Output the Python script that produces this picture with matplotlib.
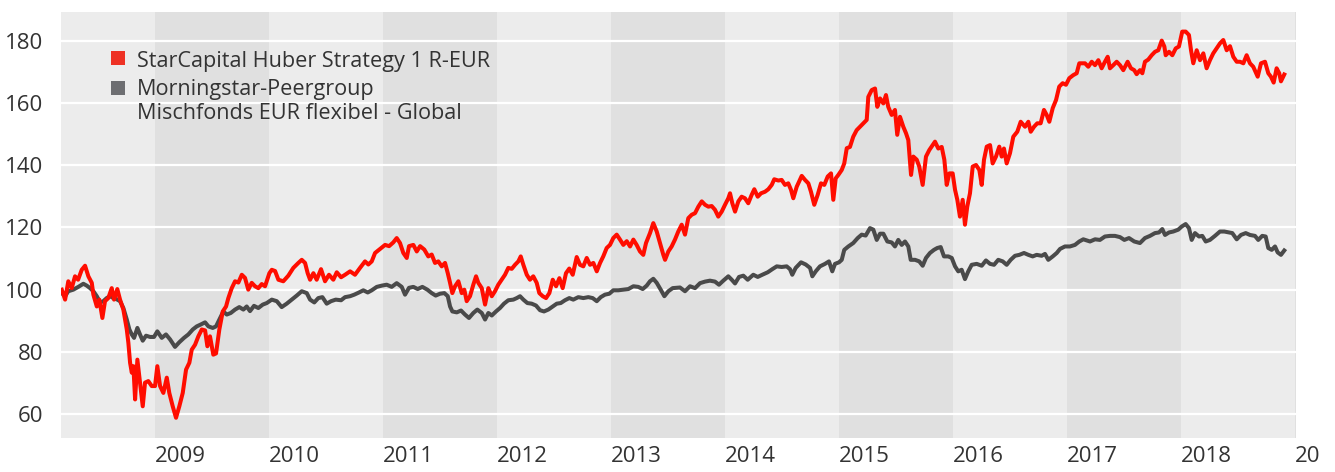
import matplotlib
matplotlib.use("Agg")
import matplotlib.pyplot as plt
from matplotlib.patches import Rectangle

# StarCapital Huber Strategy 1 R-EUR (indexed)
years_red = [
    2008.182, 2008.211, 2008.239, 2008.269, 2008.298, 2008.325, 2008.357, 2008.386,
    2008.415, 2008.445, 2008.459, 2008.489, 2008.511, 2008.538, 2008.561, 2008.590,
    2008.620, 2008.640, 2008.669, 2008.693, 2008.722, 2008.752, 2008.766, 2008.781,
    2008.796, 2008.810, 2008.825, 2008.845, 2008.868, 2008.892, 2008.912, 2008.941,
    2008.971, 2009.000, 2009.020, 2009.044, 2009.073, 2009.103, 2009.125, 2009.155,
    2009.184, 2009.213, 2009.243, 2009.272, 2009.301, 2009.322, 2009.351, 2009.380,
    2009.410, 2009.439, 2009.459, 2009.482, 2009.511, 2009.535, 2009.564, 2009.594,
    2009.623, 2009.643, 2009.673, 2009.702, 2009.731, 2009.761, 2009.789, 2009.818,
    2009.848, 2009.877, 2009.906, 2009.936, 2009.965, 2010.003, 2010.024, 2010.053,
    2010.082, 2010.125, 2010.169, 2010.213, 2010.257, 2010.287, 2010.316, 2010.339,
    2010.360, 2010.389, 2010.418, 2010.456, 2010.491, 2010.526, 2010.564, 2010.594,
    2010.632, 2010.667, 2010.711, 2010.754, 2010.798, 2010.842, 2010.871, 2010.901,
    2010.930, 2010.974, 2011.018, 2011.053, 2011.090, 2011.120, 2011.149, 2011.178,
    2011.208, 2011.228, 2011.266, 2011.296, 2011.325, 2011.362, 2011.397, 2011.427,
    2011.456, 2011.485, 2011.515, 2011.544, 2011.568, 2011.588, 2011.608, 2011.632,
    2011.661, 2011.690, 2011.713, 2011.734, 2011.763, 2011.792, 2011.816, 2011.836,
    2011.866, 2011.895, 2011.924, 2011.954, 2011.982, 2012.011, 2012.041, 2012.070,
    2012.099, 2012.129, 2012.158, 2012.187, 2012.208, 2012.231, 2012.261, 2012.289,
    2012.318, 2012.348, 2012.371, 2012.401, 2012.430, 2012.459, 2012.489, 2012.518,
    2012.547, 2012.576, 2012.605, 2012.634, 2012.664, 2012.699, 2012.728, 2012.757,
    2012.787, 2012.816, 2012.845, 2012.875, 2012.904, 2012.932, 2012.962, 2012.991,
    2013.020, 2013.050, 2013.079, 2013.108, 2013.138, 2013.167, 2013.196, 2013.225,
    2013.254, 2013.283, 2013.307, 2013.342, 2013.371, 2013.401, 2013.430, 2013.459,
    2013.474, 2013.503, 2013.532, 2013.561, 2013.590, 2013.620, 2013.649, 2013.678,
    2013.708, 2013.737, 2013.766, 2013.796, 2013.825, 2013.854, 2013.883, 2013.912,
    2013.941, 2013.971, 2014.000, 2014.029, 2014.044, 2014.064, 2014.088, 2014.117,
    2014.146, 2014.175, 2014.204, 2014.234, 2014.257, 2014.287, 2014.316, 2014.351,
    2014.380, 2014.410, 2014.432, 2014.468, 2014.497, 2014.526, 2014.555, 2014.579,
    2014.599, 2014.629, 2014.649, 2014.673, 2014.702, 2014.731, 2014.754, 2014.783,
    2014.813, 2014.842, 2014.871, 2014.901, 2014.930, 2014.950, 2014.971, 2014.994,
    2015.024, 2015.046, 2015.068, 2015.096, 2015.125, 2015.155, 2015.184, 2015.213,
    2015.243, 2015.257, 2015.287, 2015.316, 2015.336, 2015.360, 2015.389, 2015.412,
    2015.432, 2015.462, 2015.491, 2015.511, 2015.535, 2015.564, 2015.588, 2015.608,
    2015.632, 2015.652, 2015.682, 2015.704, 2015.734, 2015.763, 2015.792, 2015.822,
    2015.842, 2015.871, 2015.901, 2015.924, 2015.945, 2015.968, 2015.997, 2016.018,
    2016.038, 2016.061, 2016.085, 2016.105, 2016.125, 2016.149, 2016.173, 2016.202,
    2016.231, 2016.252, 2016.272, 2016.296, 2016.325, 2016.348, 2016.377, 2016.406,
    2016.427, 2016.447, 2016.471, 2016.500, 2016.529, 2016.564, 2016.594, 2016.632,
    2016.661, 2016.682, 2016.711, 2016.739, 2016.769, 2016.798, 2016.822, 2016.845,
    2016.875, 2016.904, 2016.932, 2016.962, 2016.991, 2017.020, 2017.055, 2017.085,
    2017.108, 2017.158, 2017.187, 2017.217, 2017.246, 2017.275, 2017.304, 2017.333,
    2017.357, 2017.377, 2017.406, 2017.436, 2017.465, 2017.494, 2017.532, 2017.561,
    2017.590, 2017.611, 2017.640, 2017.661, 2017.684, 2017.713, 2017.743, 2017.772,
    2017.801, 2017.831, 2017.854, 2017.866, 2017.895, 2017.924, 2017.954, 2017.982,
    2018.011, 2018.041, 2018.070, 2018.088, 2018.108, 2018.138, 2018.167, 2018.196,
    2018.225, 2018.254, 2018.283, 2018.313, 2018.342, 2018.371, 2018.401, 2018.430,
    2018.459, 2018.489, 2018.518, 2018.547, 2018.576, 2018.605, 2018.634, 2018.673,
    2018.702, 2018.737, 2018.766, 2018.789, 2018.813, 2018.839, 2018.862, 2018.877,
    2018.906,
]
values_red = [
    100.0, 96.8, 102.7, 100.5, 104.3, 103.2, 106.4, 107.7,
    104.3, 102.2, 98.4, 94.6, 96.8, 90.9, 96.3, 97.3,
    100.5, 96.8, 100.2, 96.8, 93.6, 87.2, 82.9, 76.5,
    73.3, 75.4, 64.7, 77.5, 70.1, 62.5, 70.1, 70.6,
    69.0, 69.0, 75.4, 69.0, 66.8, 71.7, 66.8, 62.5,
    58.8, 62.5, 66.8, 74.3, 76.5, 80.7, 82.3, 85.0,
    87.2, 86.9, 81.8, 85.0, 79.1, 79.5, 87.2, 93.0,
    94.6, 97.3, 100.5, 102.7, 102.3, 104.8, 103.8, 100.0,
    102.2, 101.1, 100.5, 101.8, 101.1, 105.3, 106.4, 106.0,
    103.2, 102.7, 104.5, 107.0, 108.6, 109.6, 108.6, 105.3,
    103.2, 105.3, 103.2, 106.6, 102.7, 104.8, 103.2, 105.6,
    104.0, 104.8, 105.9, 104.8, 107.0, 109.1, 108.1, 109.1,
    111.8, 113.1, 114.4, 114.0, 115.2, 116.6, 115.0, 111.8,
    110.2, 114.0, 114.4, 112.3, 114.0, 112.9, 110.7, 111.3,
    108.6, 109.1, 107.5, 108.6, 105.3, 102.2, 98.9, 101.1,
    102.7, 98.9, 100.0, 96.3, 97.9, 101.6, 104.3, 102.2,
    100.5, 95.2, 100.5, 97.9, 99.5, 101.6, 103.2, 104.8,
    107.0, 106.7, 108.0, 109.1, 110.7, 108.0, 104.8, 103.2,
    104.3, 102.2, 98.9, 97.9, 97.3, 98.9, 103.2, 101.1,
    103.7, 100.5, 105.3, 106.8, 104.8, 110.5, 108.0, 107.5,
    110.2, 108.0, 108.6, 105.9, 108.6, 110.7, 113.4, 114.4,
    116.6, 117.7, 116.1, 114.4, 115.6, 113.9, 116.1, 114.4,
    112.3, 111.2, 115.0, 118.2, 121.4, 118.7, 115.0, 111.2,
    109.6, 112.3, 113.9, 116.1, 118.7, 120.9, 117.7, 123.0,
    124.1, 124.6, 126.7, 128.4, 127.3, 126.7, 126.9, 125.7,
    123.5, 125.1, 127.3, 129.4, 131.0, 127.8, 125.1, 128.4,
    129.9, 129.4, 127.8, 130.5, 132.3, 129.9, 131.0, 131.5,
    132.3, 133.7, 135.5, 135.1, 135.3, 133.7, 134.2, 132.1,
    129.4, 133.1, 134.7, 136.6, 135.3, 134.2, 131.5, 127.3,
    130.5, 134.2, 133.7, 136.4, 137.4, 128.9, 135.8, 136.9,
    138.5, 140.6, 145.5, 145.9, 149.2, 151.3, 152.4, 153.5,
    154.6, 162.0, 164.2, 164.7, 158.8, 161.5, 159.9, 162.6,
    158.8, 156.2, 157.8, 149.8, 155.6, 152.4, 150.3, 148.1,
    136.9, 142.8, 141.8, 139.6, 133.7, 142.8, 144.9, 146.5,
    147.6, 145.4, 145.9, 141.8, 133.7, 137.4, 137.4, 132.1,
    128.9, 123.5, 128.9, 120.9, 126.7, 131.0, 139.6, 140.1,
    138.5, 133.7, 141.8, 146.0, 146.5, 140.6, 142.8, 146.0,
    142.8, 145.4, 140.6, 143.9, 149.2, 150.8, 154.0, 152.4,
    154.0, 150.8, 152.4, 153.5, 153.5, 157.8, 156.2, 154.0,
    158.4, 161.0, 165.3, 166.4, 165.9, 168.0, 169.0, 169.6,
    172.8, 172.8, 171.7, 173.3, 172.2, 173.8, 171.2, 173.3,
    174.9, 171.2, 172.2, 173.3, 172.2, 170.6, 173.3, 171.2,
    170.6, 169.3, 170.6, 169.6, 173.3, 174.0, 175.4, 176.5,
    177.0, 180.1, 178.2, 175.4, 176.5, 175.4, 177.6, 178.2,
    183.0, 183.0, 181.9, 177.0, 172.8, 177.0, 173.8, 176.0,
    171.2, 173.8, 176.0, 177.6, 179.2, 180.3, 177.0, 178.3,
    174.9, 173.3, 173.3, 172.8, 175.4, 172.8, 171.7, 168.5,
    172.8, 173.3, 169.6, 168.5, 166.6, 171.2, 169.6, 167.0,
    169.2,
]

# Morningstar peer group (indexed)
years_peer = [
    2008.182, 2008.211, 2008.239, 2008.283, 2008.327, 2008.371, 2008.401, 2008.430,
    2008.459, 2008.489, 2008.518, 2008.546, 2008.576, 2008.605, 2008.634, 2008.664,
    2008.693, 2008.722, 2008.752, 2008.775, 2008.796, 2008.816, 2008.845, 2008.868,
    2008.892, 2008.921, 2008.956, 2008.991, 2009.020, 2009.059, 2009.096, 2009.132,
    2009.175, 2009.213, 2009.254, 2009.292, 2009.331, 2009.366, 2009.401, 2009.439,
    2009.468, 2009.506, 2009.535, 2009.564, 2009.599, 2009.629, 2009.664, 2009.702,
    2009.739, 2009.775, 2009.804, 2009.833, 2009.868, 2009.906, 2009.945, 2009.980,
    2010.024, 2010.068, 2010.111, 2010.155, 2010.199, 2010.243, 2010.287, 2010.331,
    2010.360, 2010.397, 2010.432, 2010.468, 2010.506, 2010.544, 2010.585, 2010.632,
    2010.667, 2010.711, 2010.748, 2010.789, 2010.827, 2010.866, 2010.901, 2010.945,
    2010.989, 2011.032, 2011.076, 2011.120, 2011.164, 2011.193, 2011.228, 2011.266,
    2011.304, 2011.345, 2011.389, 2011.427, 2011.462, 2011.500, 2011.538, 2011.568,
    2011.588, 2011.608, 2011.647, 2011.684, 2011.719, 2011.754, 2011.792, 2011.827,
    2011.866, 2011.895, 2011.924, 2011.954, 2011.991, 2012.026, 2012.061, 2012.099,
    2012.143, 2012.173, 2012.202, 2012.231, 2012.266, 2012.304, 2012.342, 2012.377,
    2012.412, 2012.450, 2012.489, 2012.524, 2012.559, 2012.596, 2012.634, 2012.669,
    2012.713, 2012.757, 2012.801, 2012.839, 2012.875, 2012.910, 2012.947, 2012.985,
    2013.020, 2013.064, 2013.108, 2013.152, 2013.196, 2013.239, 2013.278, 2013.313,
    2013.342, 2013.371, 2013.401, 2013.436, 2013.468, 2013.503, 2013.541, 2013.605,
    2013.649, 2013.693, 2013.737, 2013.781, 2013.825, 2013.868, 2013.912, 2013.947,
    2013.985, 2014.029, 2014.059, 2014.088, 2014.123, 2014.161, 2014.199, 2014.248,
    2014.287, 2014.327, 2014.375, 2014.415, 2014.454, 2014.497, 2014.541, 2014.570,
    2014.590, 2014.620, 2014.667, 2014.708, 2014.746, 2014.766, 2014.796, 2014.833,
    2014.877, 2014.912, 2014.941, 2014.965, 2015.000, 2015.024, 2015.046, 2015.082,
    2015.125, 2015.164, 2015.199, 2015.234, 2015.272, 2015.301, 2015.331, 2015.360,
    2015.389, 2015.424, 2015.462, 2015.491, 2015.520, 2015.550, 2015.579, 2015.608,
    2015.629, 2015.667, 2015.704, 2015.734, 2015.763, 2015.798, 2015.833, 2015.862,
    2015.892, 2015.921, 2015.959, 2015.989, 2016.018, 2016.046, 2016.076, 2016.105,
    2016.134, 2016.164, 2016.208, 2016.252, 2016.289, 2016.325, 2016.360, 2016.397,
    2016.436, 2016.471, 2016.506, 2016.544, 2016.582, 2016.623, 2016.661, 2016.699,
    2016.734, 2016.778, 2016.807, 2016.836, 2016.875, 2016.910, 2016.939, 2016.982,
    2017.026, 2017.070, 2017.108, 2017.143, 2017.202, 2017.246, 2017.289, 2017.333,
    2017.377, 2017.421, 2017.465, 2017.503, 2017.544, 2017.590, 2017.640, 2017.684,
    2017.728, 2017.772, 2017.807, 2017.836, 2017.860, 2017.895, 2017.932, 2017.976,
    2018.006, 2018.041, 2018.070, 2018.094, 2018.123, 2018.158, 2018.187, 2018.217,
    2018.254, 2018.298, 2018.342, 2018.380, 2018.421, 2018.450, 2018.489, 2018.526,
    2018.568, 2018.605, 2018.649, 2018.678, 2018.713, 2018.743, 2018.766, 2018.796,
    2018.825, 2018.848, 2018.877, 2018.906,
]
values_peer = [
    98.9, 97.9, 99.5, 100.0, 100.9, 101.9, 101.3, 100.5,
    99.5, 97.9, 95.9, 96.3, 97.3, 97.9, 97.3, 96.9,
    96.3, 94.1, 90.4, 87.2, 85.6, 84.5, 87.7, 85.6,
    83.6, 85.2, 84.8, 84.8, 86.6, 84.5, 85.6, 84.0,
    81.6, 83.1, 84.5, 85.6, 87.2, 88.2, 88.8, 89.5,
    88.2, 87.7, 88.2, 90.4, 93.0, 92.0, 92.5, 93.6,
    94.4, 93.6, 94.6, 93.1, 94.8, 94.1, 95.2, 95.7,
    96.8, 96.3, 94.4, 95.5, 96.8, 98.1, 99.5, 98.9,
    96.8, 95.9, 97.3, 97.6, 95.5, 96.3, 96.8, 96.6,
    97.6, 97.9, 98.4, 99.1, 99.8, 99.1, 99.8, 100.9,
    101.3, 101.6, 100.9, 102.1, 100.9, 98.4, 100.6, 100.9,
    100.2, 100.9, 100.0, 98.9, 98.1, 98.7, 98.9, 97.9,
    94.6, 93.0, 92.7, 93.3, 92.0, 90.9, 92.5, 93.6,
    92.5, 90.4, 92.5, 91.7, 93.0, 94.1, 95.5, 96.6,
    96.8, 97.3, 97.9, 96.8, 95.7, 95.5, 94.9, 93.4,
    93.0, 93.6, 94.6, 95.5, 95.7, 96.6, 97.3, 96.8,
    97.6, 97.3, 97.6, 97.3, 96.3, 97.6, 98.4, 98.7,
    99.8, 99.8, 100.0, 100.2, 101.1, 100.9, 100.2, 101.3,
    102.7, 103.5, 102.2, 100.0, 97.9, 99.5, 100.5, 100.7,
    99.5, 101.1, 100.5, 102.1, 102.6, 102.9, 102.6, 101.6,
    102.9, 104.3, 103.2, 102.0, 104.1, 104.5, 103.2, 104.8,
    104.1, 104.8, 105.6, 106.6, 107.5, 107.3, 107.5, 106.6,
    104.8, 107.0, 108.8, 108.1, 107.0, 104.3, 105.9, 107.5,
    108.3, 109.1, 105.9, 108.3, 108.8, 109.6, 112.8, 113.9,
    115.0, 116.6, 117.7, 117.4, 119.8, 119.3, 116.0, 118.0,
    118.0, 115.5, 115.2, 113.9, 116.0, 114.4, 115.5, 113.9,
    109.6, 109.6, 109.1, 107.7, 110.2, 111.8, 112.8, 113.4,
    113.7, 110.7, 110.7, 110.2, 107.5, 105.9, 106.4, 103.4,
    105.9, 108.0, 108.3, 107.7, 109.4, 108.3, 108.0, 109.6,
    109.1, 108.0, 109.6, 110.9, 111.2, 111.8, 111.2, 110.7,
    111.2, 110.9, 111.5, 109.6, 110.7, 111.8, 113.1, 113.9,
    113.9, 114.4, 115.5, 116.2, 115.5, 116.2, 116.0, 117.1,
    117.3, 117.3, 116.9, 116.0, 116.6, 115.5, 115.0, 116.6,
    117.3, 118.2, 118.4, 119.5, 117.6, 118.4, 118.7, 119.3,
    120.3, 121.1, 119.8, 116.0, 118.2, 117.1, 117.3, 115.5,
    116.0, 117.3, 118.7, 118.7, 118.4, 118.2, 116.2, 117.6,
    118.2, 117.6, 117.3, 116.0, 117.3, 117.1, 113.4, 112.8,
    113.9, 112.0, 111.2, 112.6,
]

label_red = "StarCapital Huber Strategy 1 R-EUR"
label_peer = ["Morningstar-Peergroup", "Mischfonds EUR flexibel - Global"]
year_ticks = list(range(2009, 2020))
# the last year label is cut to "20" at the right edge in the original
year_labels = [str(y) for y in range(2009, 2019)] + ["20"]
shaded_years = [2009, 2011, 2013, 2015, 2017, 2019]
y_ticks = [60, 80, 100, 120, 140, 160, 180]

plt.rcParams['font.family'] = ['Open Sans', 'DejaVu Sans']
text_col = '#333333'

fig = plt.figure(figsize=(13.35, 4.72), dpi=100)
ax = fig.add_axes([61 / 1335, 34 / 472, 1235 / 1335, 426 / 472])
ax.set_facecolor('#ececec')

for yr in shaded_years:
    ax.axvspan(yr, yr + 1, color='#e0e0e0', lw=0, zorder=0)

for yv in y_ticks:
    ax.axhline(yv, color='white', lw=1.6, zorder=1)

ax.plot(years_peer, values_peer, color='#4a4a4a', lw=2.9, zorder=3,
        solid_joinstyle='round')
ax.plot(years_red, values_red, color='#ff0d00', lw=2.9, zorder=4,
        solid_joinstyle='round')

ax.set_xlim(2008.175, 2019.009)
ax.set_ylim(52.3, 189.3)

ax.set_yticks(y_ticks)
ax.set_yticklabels([str(v) for v in y_ticks])
ax.set_xticks(year_ticks)
ax.set_xticklabels(year_labels, ha='left')
ax.tick_params(axis='both', length=0, labelsize=16, colors=text_col)
ax.tick_params(axis='y', pad=13)
ax.tick_params(axis='x', pad=6)
for sp in ax.spines.values():
    sp.set_visible(False)

# legend drawn by hand
ax.add_patch(Rectangle((0.0405, 0.8756), 0.0113, 0.0329, transform=ax.transAxes,
                       color='#ee3124', lw=0, zorder=5))
ax.add_patch(Rectangle((0.0405, 0.8052), 0.0113, 0.0329, transform=ax.transAxes,
                       color='#6d6e71', lw=0, zorder=5))
ax.text(0.0615, 0.8716, label_red, transform=ax.transAxes, fontsize=15.6,
        color=text_col, va='baseline', zorder=5)
ax.text(0.0615, 0.8052, label_peer[0], transform=ax.transAxes, fontsize=15.6,
        color=text_col, va='baseline', zorder=5)
ax.text(0.0615, 0.7481, label_peer[1], transform=ax.transAxes, fontsize=15.6,
        color=text_col, va='baseline', zorder=5)

fig.savefig('out.png', dpi=100)
